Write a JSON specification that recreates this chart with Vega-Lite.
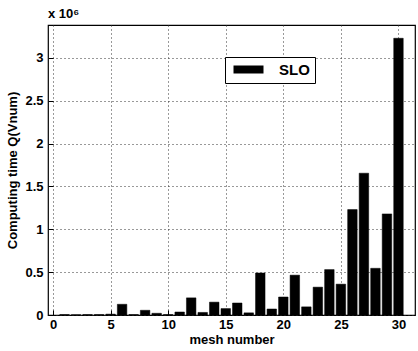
{
  "$schema": "https://vega.github.io/schema/vega-lite/v6.json",
  "autosize": {"type": "none"},
  "padding": {"left": 48, "top": 25, "right": 3, "bottom": 36},
  "width": 367,
  "height": 290,
  "background": "white",
  "title": {
    "text": "x 10⁶",
    "anchor": "start",
    "frame": "group",
    "offset": 4,
    "font": "Liberation Sans",
    "fontSize": 13,
    "fontWeight": "bold",
    "color": "black"
  },
  "data": {
    "values": [
      {"mesh": 1, "time": 0.005, "method": "SLO"},
      {"mesh": 2, "time": 0.003, "method": "SLO"},
      {"mesh": 3, "time": 0.005, "method": "SLO"},
      {"mesh": 4, "time": 0.005, "method": "SLO"},
      {"mesh": 5, "time": 0.01, "method": "SLO"},
      {"mesh": 6, "time": 0.125, "method": "SLO"},
      {"mesh": 7, "time": 0.005, "method": "SLO"},
      {"mesh": 8, "time": 0.055, "method": "SLO"},
      {"mesh": 9, "time": 0.02, "method": "SLO"},
      {"mesh": 10, "time": 0.005, "method": "SLO"},
      {"mesh": 11, "time": 0.035, "method": "SLO"},
      {"mesh": 12, "time": 0.2, "method": "SLO"},
      {"mesh": 13, "time": 0.03, "method": "SLO"},
      {"mesh": 14, "time": 0.15, "method": "SLO"},
      {"mesh": 15, "time": 0.075, "method": "SLO"},
      {"mesh": 16, "time": 0.14, "method": "SLO"},
      {"mesh": 17, "time": 0.025, "method": "SLO"},
      {"mesh": 18, "time": 0.49, "method": "SLO"},
      {"mesh": 19, "time": 0.07, "method": "SLO"},
      {"mesh": 20, "time": 0.21, "method": "SLO"},
      {"mesh": 21, "time": 0.465, "method": "SLO"},
      {"mesh": 22, "time": 0.095, "method": "SLO"},
      {"mesh": 23, "time": 0.325, "method": "SLO"},
      {"mesh": 24, "time": 0.53, "method": "SLO"},
      {"mesh": 25, "time": 0.36, "method": "SLO"},
      {"mesh": 26, "time": 1.23, "method": "SLO"},
      {"mesh": 27, "time": 1.655, "method": "SLO"},
      {"mesh": 28, "time": 0.545, "method": "SLO"},
      {"mesh": 29, "time": 1.18, "method": "SLO"},
      {"mesh": 30, "time": 3.23, "method": "SLO"}
    ]
  },
  "mark": {"type": "bar", "size": 9.5, "stroke": "black", "strokeWidth": 0.5},
  "encoding": {
    "x": {
      "field": "mesh",
      "type": "quantitative",
      "scale": {"domain": [0, 31], "nice": false, "zero": false},
      "axis": {
        "title": "mesh number",
        "values": [0, 5, 10, 15, 20, 25, 30],
        "format": "d",
        "labelPadding": 8,
        "titlePadding": 2
      }
    },
    "y": {
      "field": "time",
      "type": "quantitative",
      "scale": {"domain": [0, 3.385], "nice": false},
      "axis": {
        "title": "Computing time Q(Vnum)",
        "values": [0, 0.5, 1, 1.5, 2, 2.5, 3],
        "format": "~g",
        "labelPadding": 10,
        "titlePadding": 5
      }
    },
    "fill": {
      "field": "method",
      "type": "nominal",
      "scale": {"range": ["black"]},
      "legend": {
        "title": null,
        "orient": "none",
        "legendX": 177,
        "legendY": 32,
        "direction": "vertical",
        "padding": 5,
        "strokeColor": "black",
        "fillColor": "white",
        "symbolType": "M-3.75,-1H3.75V1H-3.75Z",
        "symbolSize": 64,
        "symbolOffset": 11,
        "symbolStrokeWidth": 0,
        "labelFont": "Liberation Sans",
        "labelFontSize": 15,
        "labelFontWeight": "bold",
        "labelColor": "black",
        "labelOffset": 23
      }
    }
  },
  "config": {
    "view": {"stroke": "black", "strokeWidth": 1.2},
    "axis": {
      "domain": false,
      "tickSize": -5,
      "tickColor": "black",
      "grid": true,
      "gridColor": "#333",
      "gridDash": [1, 3],
      "gridWidth": 1,
      "labelFont": "Liberation Sans",
      "labelFontSize": 13,
      "labelFontWeight": "bold",
      "labelColor": "black",
      "titleFont": "Liberation Sans",
      "titleFontSize": 13,
      "titleFontWeight": "bold",
      "titleColor": "black"
    }
  }
}
